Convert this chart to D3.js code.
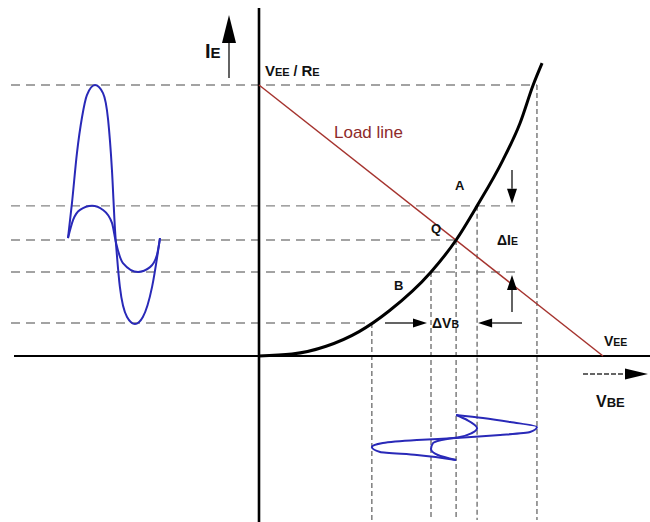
<!DOCTYPE html>
<html>
<head>
<meta charset="utf-8">
<script src="https://cdn.jsdelivr.net/npm/d3@7"></script>
<style>
  body { margin: 0; background: #fff; }
  text { font-family: "Liberation Sans", Arial, sans-serif; }
</style>
</head>
<body>
<svg id="chart" width="650" height="522"></svg>
<script>
// input characteristic: VBE (% of VEE) vs IE (% of VEE/RE)
const curveVbe = [0, 9.6, 19.5, 29.1, 37.8, 50.0, 57.3, 63.4, 70.9, 75.9, 79.7, 82.3];
const curveIe = [0, 0.7, 3.6, 9.0, 16.6, 31.0, 42.8, 55.4, 72.3, 86.0, 100, 108.1];

// load line end points
const loadVbe = [0, 100];
const loadIe = [100, 0];

// levels: top, A, Q, B, bottom
const ieLevels = [100, 55.4, 42.8, 31.0, 12.2];
const vbeLevels = [80.8, 63.4, 57.3, 50.0, 32.8];

// IE waveform (phase in degrees)
const phaseIe = [0, 15.6, 35, 55, 74, 106, 137, 157, 172, 184, 192, 203, 231, 262, 293, 329, 360];
const ieBig = [43.5, 56.5, 74.9, 88.2, 96.3, 100, 97.0, 87.1, 68.6, 46.5, 36.5, 25.5, 14.4, 11.8, 14.4, 25.5, 43.5];
const phaseIeSmall = [0, 20, 47, 94, 137, 172, 188, 215, 274, 321, 348, 360];
const ieSmall = [43.5, 50.2, 53.9, 55.4, 53.9, 49.1, 41.7, 34.3, 31.0, 32.8, 37.3, 43.5];

// VBE waveform (phase in degrees)
const phaseVbe = [0, 24, 56, 96, 136, 160, 184, 200, 224, 256, 296, 320, 360];
const vbeBig = [57.3, 65.1, 73.0, 80.8, 78.8, 70.1, 57.3, 45.9, 36.0, 32.8, 35.2, 45.9, 57.3];
const phaseVbeSmall = [0, 40, 104, 144, 176, 192, 224, 272, 320, 360];
const vbeSmall = [57.3, 60.5, 63.4, 61.9, 58.4, 54.7, 50.6, 50.0, 52.0, 57.3];

const svg = d3.select('#chart');

const x = d3.scaleLinear().domain([0, 100]).range([259, 603]);
const y = d3.scaleLinear().domain([0, 100]).range([356, 85]);
const tLeft = d3.scaleLinear().domain([0, 360]).range([68, 160]);
const tBottom = d3.scaleLinear().domain([0, 360]).range([415, 460]);

const hEnd = [x(vbeLevels[0]), 517, x(vbeLevels[2]), 517, x(vbeLevels[4])];

// horizontal guides
svg.selectAll('.hguide')
  .data(ieLevels)
  .enter().append('line')
  .attr('class', 'hguide')
  .attr('x1', 11)
  .attr('x2', (d, i) => hEnd[i])
  .attr('y1', d => y(d))
  .attr('y2', d => y(d))
  .attr('stroke', '#858585')
  .attr('stroke-width', 1.4)
  .attr('stroke-dasharray', '9,6');

// vertical guides
svg.selectAll('.vguide')
  .data(vbeLevels)
  .enter().append('line')
  .attr('class', 'vguide')
  .attr('x1', d => x(d))
  .attr('x2', d => x(d))
  .attr('y1', (d, i) => y(ieLevels[i]))
  .attr('y2', 520)
  .attr('stroke', '#747474')
  .attr('stroke-width', 1.4)
  .attr('stroke-dasharray', '5,3');

// axes
svg.append('line')
  .attr('x1', x(0)).attr('x2', x(0))
  .attr('y1', 8).attr('y2', 522)
  .attr('stroke', '#000').attr('stroke-width', 2.6);
svg.append('line')
  .attr('x1', 14).attr('x2', 650)
  .attr('y1', y(0)).attr('y2', y(0))
  .attr('stroke', '#000').attr('stroke-width', 2.2);

// load line
svg.append('path')
  .datum(d3.zip(loadVbe, loadIe))
  .attr('d', d3.line().x(d => x(d[0])).y(d => y(d[1])))
  .attr('fill', 'none')
  .attr('stroke', '#a5332e')
  .attr('stroke-width', 1.5);

// characteristic curve
svg.append('path')
  .datum(d3.zip(curveVbe, curveIe))
  .attr('d', d3.line().curve(d3.curveMonotoneX).x(d => x(d[0])).y(d => y(d[1])))
  .attr('fill', 'none')
  .attr('stroke', '#000')
  .attr('stroke-width', 3);

// waveforms
const leftWave = d3.line().curve(d3.curveMonotoneX).x(d => tLeft(d[0])).y(d => y(d[1]));
const bottomWave = d3.line().curve(d3.curveMonotoneY).x(d => x(d[1])).y(d => tBottom(d[0]));

[[phaseIe, ieBig], [phaseIeSmall, ieSmall]].forEach(function (w) {
  svg.append('path')
    .datum(d3.zip(w[0], w[1]))
    .attr('d', leftWave)
    .attr('fill', 'none')
    .attr('stroke', '#2929b8')
    .attr('stroke-width', 2);
});
[[phaseVbe, vbeBig], [phaseVbeSmall, vbeSmall]].forEach(function (w) {
  svg.append('path')
    .datum(d3.zip(w[0], w[1]))
    .attr('d', bottomWave)
    .attr('fill', 'none')
    .attr('stroke', '#2929b8')
    .attr('stroke-width', 2);
});

// arrow helper: line from (x1,y1) to tip (x2,y2), head length hl, half width hw
function arrow(x1, y1, x2, y2, hl, hw, dash, color) {
  const a = Math.atan2(y2 - y1, x2 - x1);
  const bx = x2 - hl * Math.cos(a), by = y2 - hl * Math.sin(a);
  svg.append('line')
    .attr('x1', x1).attr('y1', y1).attr('x2', bx).attr('y2', by)
    .attr('stroke', color || '#222').attr('stroke-width', 1.4)
    .attr('stroke-dasharray', dash || null);
  const px = -Math.sin(a) * hw, py = Math.cos(a) * hw;
  svg.append('polygon')
    .attr('points', [[x2, y2], [bx + px, by + py], [bx - px, by - py]].map(p => p.join(',')).join(' '))
    .attr('fill', '#000');
}

arrow(229, 78, 229, 15, 28, 7);
arrow(583, 374, 648, 374, 23, 5.5, '5,2', '#333');
arrow(512, 170, 512, y(ieLevels[1]) - 2, 15, 5);
arrow(512, 312, 512, y(ieLevels[3]) + 3, 15, 5);
arrow(385, 323, x(vbeLevels[3]) - 4, 323, 14, 4.5);
arrow(522, 323, x(vbeLevels[1]) + 1, 323, 14, 4.5);

// labels
function label(px, py, parts) {
  const t = svg.append('text')
    .attr('x', px).attr('y', py)
    .attr('font-weight', 'bold').attr('fill', '#111');
  parts.forEach(p => t.append('tspan').attr('font-size', p[1]).text(p[0]));
  return t;
}

label(205, 58, [['I', 20], ['E', 15]]);
label(265, 76, [['V', 15], ['EE', 11], [' / ', 14], ['R', 15], ['E', 11]]);
label(604, 346, [['V', 14], ['EE', 10.5]]);
label(596, 407, [['V', 16], ['BE', 13]]);
label(432, 328, [['\u0394V', 14], ['B', 10.5]]);
label(497, 245, [['\u0394I', 14], ['E', 10.5]]);
label(455, 190, [['A', 13]]);
label(431, 233, [['Q', 13]]);
label(394, 290, [['B', 13]]);

svg.append('text')
  .attr('x', 334).attr('y', 138)
  .attr('font-size', 17)
  .attr('fill', '#8e2b2b')
  .text('Load line');
</script>
</body>
</html>
